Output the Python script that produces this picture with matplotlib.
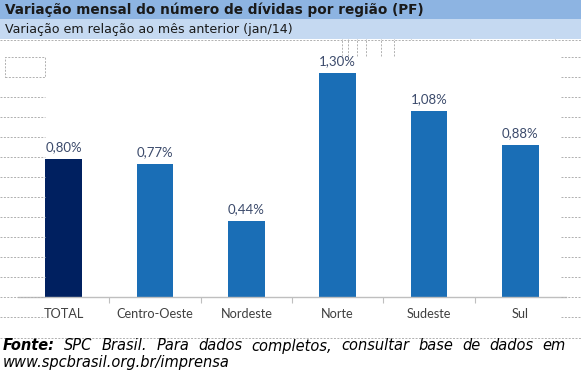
import matplotlib
matplotlib.use("Agg")
import matplotlib.pyplot as plt
from matplotlib.patches import Rectangle
from matplotlib.lines import Line2D

categories = ["TOTAL", "Centro-Oeste", "Nordeste", "Norte", "Sudeste", "Sul"]
values = [0.80, 0.77, 0.44, 1.30, 1.08, 0.88]
labels = ["0,80%", "0,77%", "0,44%", "1,30%", "1,08%", "0,88%"]
title = "Variação mensal do número de dívidas por região (PF)"
subtitle = "Variação em relação ao mês anterior (jan/14)"
source_words = ["SPC", "Brasil.", "Para", "dados", "completos,", "consultar", "base", "de", "dados", "em"]
source_line2 = "www.spcbrasil.org.br/imprensa"

W, H = 581, 370
fig = plt.figure(figsize=(W / 100, H / 100), dpi=100)
fig.patch.set_facecolor("white")

def px(x, y):
    return x / W, 1 - y / H

grid_kw = dict(color="#b0b0b0", lw=0.7, ls=(0, (2, 1.5)), transform=fig.transFigure, zorder=0)

# header bands
fig.patches.append(Rectangle(px(0, 19), 1, 19 / H, transform=fig.transFigure,
                             facecolor="#8db4e2", edgecolor="none", zorder=0))
fig.patches.append(Rectangle(px(0, 39), 1, 20 / H, transform=fig.transFigure,
                             facecolor="#c5d9f1", edgecolor="none", zorder=0))
for y in [19.5, 39.5]:
    fig.lines.append(Line2D([0, 1], [1 - y / H] * 2, **grid_kw))
for x in [411, 470, 555]:
    fig.lines.append(Line2D([x / W] * 2, [1 - 0 / H, 1 - 39 / H], **grid_kw))
for x in [342, 348, 357, 366, 381, 394]:
    fig.lines.append(Line2D([x / W] * 2, [1 - 20 / H, 1 - 56 / H], **grid_kw))

# left spreadsheet grid
for y in range(97, 318, 20):
    fig.lines.append(Line2D([0, 45 / W], [1 - y / H] * 2, **grid_kw))
fig.patches.append(Rectangle(px(5, 77), 40 / W, 20 / H, transform=fig.transFigure,
                             facecolor="none", edgecolor="#b0b0b0", lw=0.7, ls=(0, (2, 1.5)), zorder=0))
# right spreadsheet grid
for y in range(57, 318, 20):
    fig.lines.append(Line2D([561 / W, 1], [1 - y / H] * 2, **grid_kw))
fig.lines.append(Line2D([0, 1], [1 - 337.5 / H] * 2, **grid_kw))

fig.text(5 / W, 1 - 10 / H, title, fontsize=9.8, fontweight="bold", color="#1a1a1a",
         va="center", ha="left", family="DejaVu Sans")
fig.text(5 / W, 1 - 29.5 / H, subtitle, fontsize=9.1, color="#1a1a1a",
         va="center", ha="left", family="DejaVu Sans")

# chart
ax = fig.add_axes([18 / W, 1 - 297 / H, (566 - 18) / W, (297 - 55.5) / H])
ax.set_facecolor("none")
x = list(range(len(categories)))
colors = ["#002060"] + ["#1a6eb6"] * (len(categories) - 1)
bars = ax.bar(x, values, width=0.4, color=colors, zorder=2)
for xi, v, lab in zip(x, values, labels):
    ax.text(xi, v + 0.035, lab, ha="center", va="bottom", fontsize=9.5,
            color="#3b4a6b", family="Lato")
ax.set_xlim(-0.5, len(categories) - 0.5)
ax.set_ylim(0, 1.4)
ax.set_yticks([])
for s in ["top", "right", "left"]:
    ax.spines[s].set_visible(False)
ax.spines["bottom"].set_color("#bfbfbf")
ax.spines["bottom"].set_linewidth(1.0)
ax.set_xticks([i + 0.5 for i in range(len(categories) - 1)])
ax.set_xticklabels([])
ax.tick_params(axis="x", length=4, color="#bfbfbf", direction="out")
for xi, c in zip(x, categories):
    ax.text(xi, -0.065, c, ha="center", va="top", fontsize=9.2, color="#404040",
            family="Lato", transform=ax.transData)

# source line, justified
fig.canvas.draw()
renderer = fig.canvas.get_renderer()
x0, x1 = 3, 566
ybase = 1 - 346 / H
arts = [fig.text(0, ybase, "Fonte:", fontsize=10.5, fontweight="bold", style="italic",
                 color="black", va="center", family="DejaVu Sans")]
for w in source_words:
    arts.append(fig.text(0, ybase, w, fontsize=10.5, style="italic", color="black",
                         va="center", family="DejaVu Sans"))
widths = [a.get_window_extent(renderer).width for a in arts]
gap = (x1 - x0 - sum(widths)) / (len(arts) - 1)
pos = x0
for a, w in zip(arts, widths):
    a.set_x(pos / W)
    pos += w + gap
fig.text(x0 / W, 1 - 362 / H, source_line2, fontsize=10.5, style="italic", color="black",
         va="center", ha="left", family="DejaVu Sans")

fig.savefig("out.png", dpi=100)
